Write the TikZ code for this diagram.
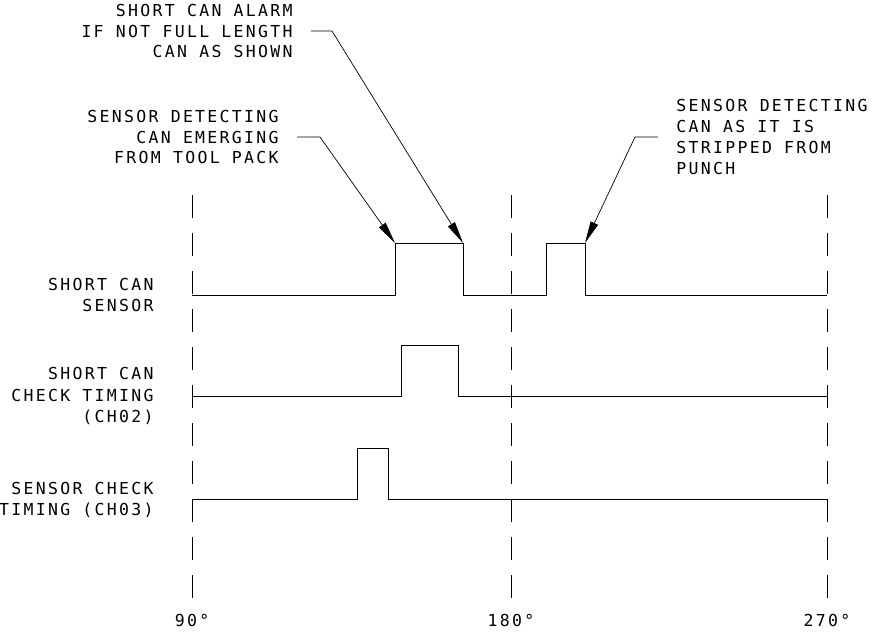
\documentclass[tikz,border=0pt]{standalone}
\usepackage{fontspec}
\setmainfont{DejaVu Sans Mono}[LetterSpace=14]
\usepackage{tikz}
\usetikzlibrary{arrows.meta,calc}

\begin{document}
\begin{tikzpicture}[x=1pt,y=-1pt,>={Triangle[length=22pt,width=8pt]},line width=0.7pt,
  grid/.style={dash pattern=on 23pt off 15pt},
  note/.style={align=right,inner xsep=18pt,inner ysep=0pt,font=\fontsize{16.5}{20.7}\selectfont},
  sig/.style={anchor=east,align=right,inner sep=0pt,font=\fontsize{16.5}{21.7}\selectfont},
  deg/.style={inner sep=0pt,font=\fontsize{16.5}{20}\selectfont}]
\useasboundingbox (0,0) rectangle (875,634);

% crank angle grid
\foreach \x/\a in {192/90,511/180,827/270}{
  \draw[grid] (\x,195) -- (\x,598);
  \node[deg] (deg\a) at (\x,620) {\a°};
}

% signal names
\node[sig] (sensor) at (154,295) {SHORT CAN\\SENSOR};
\node[sig] (ch02) at (154,396) {SHORT CAN\\CHECK TIMING\\(CH02)};
\node[sig] (ch03) at (154,500) {SENSOR CHECK\\TIMING (CH03)};

% traces
\draw (192,295) -- (395,295) -- (395,243) coordinate (riseA) -- (463,243) coordinate (fallA)
  -- (463,295) -- (546,295) -- (546,243) -- (585,243) coordinate (fallB) -- (585,295) -- (827,295);
\draw (192,396) -- (401,396) -- (401,345) -- (458,345) -- (458,396) -- (827,396);
\draw (192,499) -- (357,499) -- (357,448) -- (388,448) -- (388,499) -- (827,499);

% callouts
\node[note,anchor=east] (alarm) at (311,31) {SHORT CAN ALARM\\IF NOT FULL LENGTH\\CAN AS SHOWN};
\node[note,anchor=east] (emerge) at (297,137) {SENSOR DETECTING\\CAN EMERGING\\FROM TOOL PACK};
\node[note,anchor=west,align=left] (strip) at (658,137) {SENSOR DETECTING\\CAN AS IT IS\\STRIPPED FROM\\PUNCH};

\draw[->] (alarm.east) -- ++(21,0) -- (fallA);
\draw[->] (emerge.east) -- ++(23,0) -- (riseA);
\draw[->] (strip.west) -- ++(-23,0) -- (fallB);
\end{tikzpicture}
\end{document}
